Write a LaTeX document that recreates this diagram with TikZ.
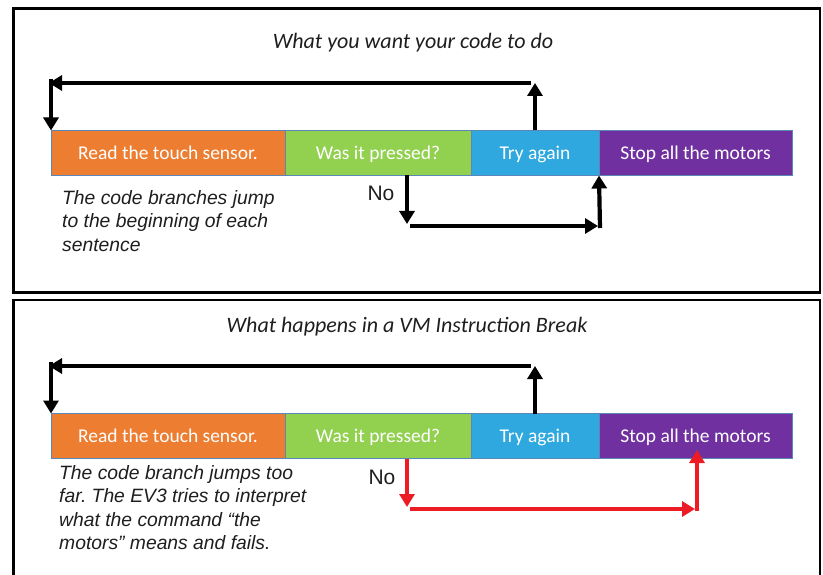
\documentclass[tikz,border=0pt]{standalone}
\usepackage{fontspec}
\setmainfont{Carlito}
\newfontfamily\arialish{Liberation Sans}
\usetikzlibrary{arrows.meta}
\frenchspacing

\definecolor{boxorange}{HTML}{ED7D31}
\definecolor{boxgreen}{HTML}{92D050}
\definecolor{boxblue}{HTML}{2FA8E0}
\definecolor{boxpurple}{HTML}{7030A0}
\definecolor{boxline}{HTML}{5A86B8}
\definecolor{jumpred}{HTML}{ED1C24}
\definecolor{inktext}{HTML}{1E1E1E}

\tikzset{
  panel/.style={draw=black, line width=2.7pt},
  stepbox/.style={draw=boxline, line width=0.6pt, text=white, minimum height=45pt,
    inner sep=0pt, outer sep=0pt, text height=15pt, text depth=2pt,
    font=\fontsize{19.5}{22}\selectfont, anchor=north west},
  heading/.style={font=\fontsize{22}{25}\selectfont\itshape, text=inktext},
  note/.style={font=\arialish\fontsize{19.3}{23.5}\selectfont\itshape, text=inktext,
    align=left, anchor=north west, inner sep=0pt},
  nolabel/.style={font=\arialish\fontsize{21}{24}\selectfont, text=inktext},
  jump/.style={line width=4.2pt, -{Triangle[width=15pt,length=13pt]}},
}

\begin{document}
\begin{tikzpicture}[x=1pt,y=-1pt]
\useasboundingbox (0,0) rectangle (823,575);

% panel frames
\draw[panel] (13.3,8.7) rectangle (820,292.3);
\draw[panel] (820,590) -- (820,300) -- (13.3,300) -- (13.3,590);

% ---------- upper panel ----------
\node[heading] (h1) at (413,43) {What you want your code to do};

\node[stepbox, fill=boxorange, minimum width=234pt] (r1) at (51,130.5) {Read the touch sensor.};
\node[stepbox, fill=boxgreen,  minimum width=186pt] (p1) at (r1.north east) {Was it pressed?};
\node[stepbox, fill=boxblue,   minimum width=128pt] (t1) at (p1.north east) {Try again};
\node[stepbox, fill=boxpurple, minimum width=193pt] (s1) at (t1.north east) {Stop all the motors};

\node[note] (n1) at (62,190) {The code branches jump\\to the beginning of each\\sentence};
\node[nolabel] (no1) at (381,193) {No};

% loop back from "Try again" to the start
\coordinate (u1) at (535,83);
\coordinate (l1a) at (531,83);
\coordinate (l1b) at (49,83);
\coordinate (d1) at (51,79);
\draw[jump] (t1.north -| u1) -- (u1);
\draw[jump] (l1a) -- (l1b);
\draw[jump] (d1) -- (d1 |- r1.north);

% "No" branch into "Try again"
\coordinate (b1a) at (407,224);
\coordinate (b1b) at (410,226);
\coordinate (b1c) at (598,226);
\coordinate (b1d) at (600,228);
\draw[jump] (p1.south -| b1a) -- (b1a);
\draw[jump] (b1b) -- (b1c);
\draw[jump] (b1d) -- (t1.south east);

% ---------- lower panel ----------
\node[heading] (h2) at (407,327) {What happens in a VM Instruction Break};

\node[stepbox, fill=boxorange, minimum width=234pt] (r2) at (51,413.5) {Read the touch sensor.};
\node[stepbox, fill=boxgreen,  minimum width=186pt] (p2) at (r2.north east) {Was it pressed?};
\node[stepbox, fill=boxblue,   minimum width=128pt] (t2) at (p2.north east) {Try again};
\node[stepbox, fill=boxpurple, minimum width=193pt] (s2) at (t2.north east) {Stop all the motors};

\node[note] (n2) at (59,465) {The code branch jumps too\\far. The EV3 tries to interpret\\what the command “the\\motors” means and fails.};
\node[nolabel] (no2) at (382,477) {No};

% loop back from "Try again" to the start
\coordinate (u2) at (535,366);
\coordinate (l2a) at (531,366);
\coordinate (l2b) at (49,366);
\coordinate (d2) at (51,362);
\draw[jump] (t2.north -| u2) -- (u2);
\draw[jump] (l2a) -- (l2b);
\draw[jump] (d2) -- (d2 |- r2.north);

% "No" branch overshooting into the middle of "Stop all the motors"
\coordinate (b2a) at (407,507);
\coordinate (b2b) at (410,509);
\coordinate (b2c) at (695,509);
\coordinate (b2d) at (697,511);
\coordinate (b2e) at (697,450);
\draw[jump, draw=jumpred, fill=jumpred] (p2.south -| b2a) -- (b2a);
\draw[jump, draw=jumpred, fill=jumpred] (b2b) -- (b2c);
\draw[jump, draw=jumpred, fill=jumpred] (b2d) -- (b2e);
\end{tikzpicture}
\end{document}
